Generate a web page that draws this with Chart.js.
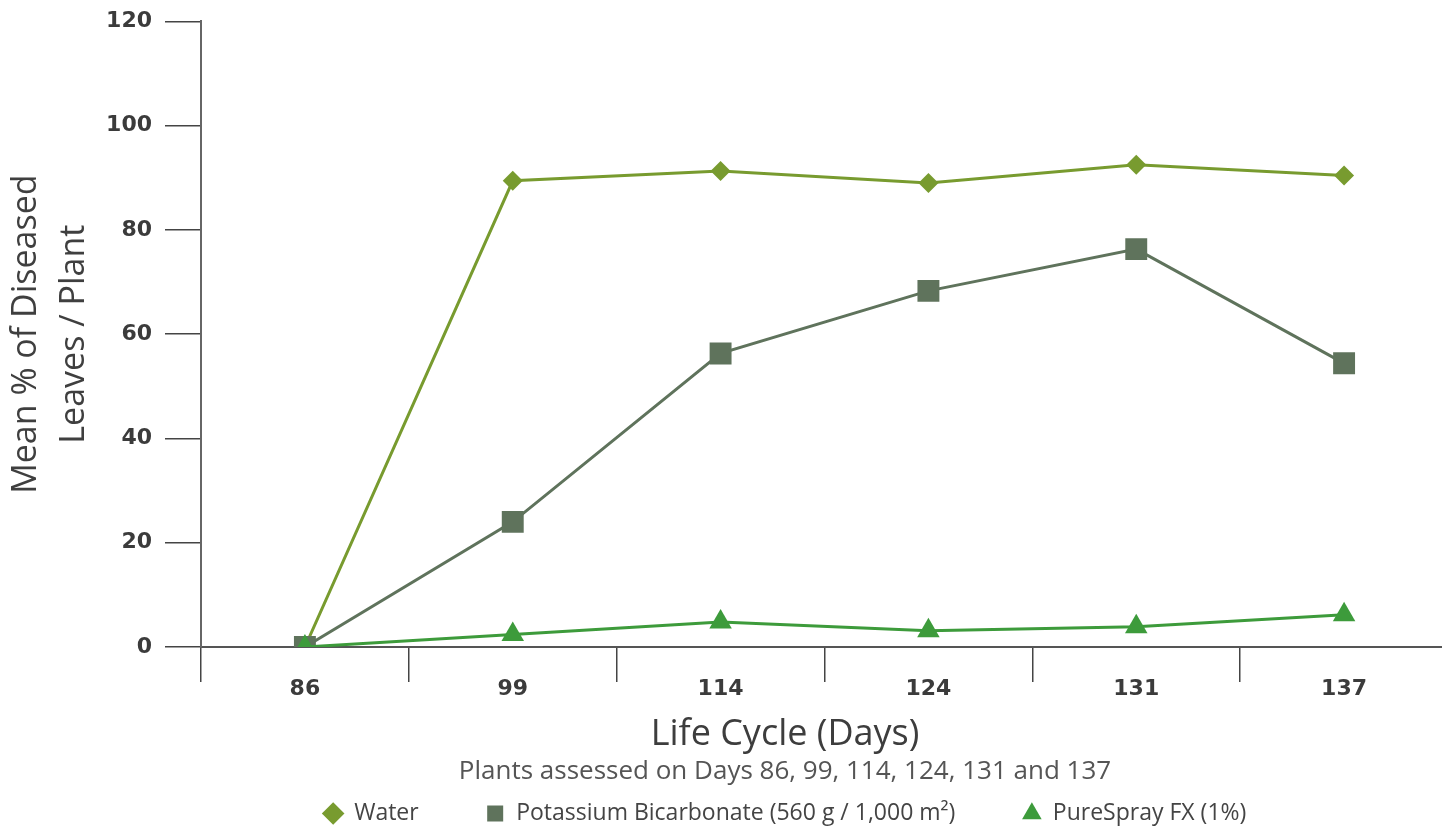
<!DOCTYPE html>
<html>
<head>
<meta charset="utf-8">
<script src="https://cdn.jsdelivr.net/npm/chart.js@4.4.1/dist/chart.umd.min.js"></script>
<style>
  html, body { margin: 0; padding: 0; background: #fff; overflow: hidden; }
  #wrap { width: 1442px; height: 827px; overflow: hidden; }
</style>
</head>
<body>
<div id="wrap">
  <canvas id="myChart" width="1570" height="827"></canvas>
</div>
<script>
const days      = ['86', '99', '114', '124', '131', '137'];
const water     = [0, 89.4, 91.3, 89.0, 92.5, 90.4];
const potassium = [0, 24.0, 56.3, 68.3, 76.3, 54.4];
const pureSpray = [0, 2.4, 4.8, 3.1, 3.9, 6.2];
const yTicks    = [0, 20, 40, 60, 80, 100, 120];

const textFont = 'Open Sans';

const data = {
    labels: days,
    datasets: [{
        label: 'Water',
        data: water,
        borderColor: '#789b2f',
        backgroundColor: '#789b2f',
        borderWidth: 3,
        pointStyle: 'rectRot',
        pointRadius: 10,
        pointBorderWidth: 0,
        order: 2
    }, {
        label: 'Potassium Bicarbonate (560 g / 1,000 m²)',
        data: potassium,
        borderColor: '#5f735c',
        backgroundColor: '#5f735c',
        borderWidth: 3,
        pointStyle: 'rect',
        pointRadius: 15.5,
        pointBorderWidth: 0,
        order: 1
    }, {
        label: 'PureSpray FX (1%)',
        data: pureSpray,
        borderColor: '#3d9b3b',
        backgroundColor: '#3d9b3b',
        borderWidth: 3,
        pointStyle: 'triangle',
        pointRadius: 13,
        pointBorderWidth: 0,
        order: 0
    }]
};

const config = {
    type: 'line',
    data: data,
    options: {
        responsive: false,
        animation: false,
        layout: { padding: { top: 0, bottom: -8, left: 0, right: 0 } },
        plugins: {
            tooltip: { enabled: false },
            legend: {
                position: 'bottom',
                weight: 1000,
                labels: {
                    usePointStyle: true,
                    boxWidth: 19,
                    boxHeight: 16,
                    padding: 67,
                    color: '#444',
                    font: { family: textFont, size: 23 },
                    sort: (a, b) => a.datasetIndex - b.datasetIndex
                }
            },
            title: {
                display: true,
                position: 'bottom',
                weight: 100,
                text: 'Life Cycle (Days)',
                color: '#3d3d3d',
                font: { family: textFont, size: 36, weight: 'normal', lineHeight: 1.2 },
                padding: { top: 2.4, bottom: -21.6 }
            },
            subtitle: {
                display: true,
                position: 'bottom',
                weight: 200,
                text: 'Plants assessed on Days 86, 99, 114, 124, 131 and 137',
                color: '#555',
                font: { family: textFont, size: 26, weight: 'normal', lineHeight: 1.2 },
                padding: { top: 21.4, bottom: -52.6 }
            }
        },
        scales: {
            x: {
                offset: true,
                grid: {
                    offset: true,
                    drawOnChartArea: false,
                    tickLength: 35,
                    color: '#444',
                    lineWidth: 1.5
                },
                border: { color: '#555', width: 2 },
                ticks: {
                    color: '#3b3b3b',
                    font: { family: 'DejaVu Sans', weight: 'bold', size: 22 },
                    padding: -6
                },
                afterFit: (s) => { s.height = 64; }
            },
            y: {
                min: 0,
                max: 120,
                afterBuildTicks: (s) => { s.ticks = yTicks.map(v => ({ value: v })); },
                grid: {
                    drawOnChartArea: false,
                    tickLength: 36,
                    color: '#444',
                    lineWidth: 1.5
                },
                border: { color: '#666', width: 2 },
                ticks: {
                    color: '#3b3b3b',
                    font: { family: 'DejaVu Sans', weight: 'bold', size: 22, lineHeight: 0.75 },
                    padding: 13
                },
                title: {
                    display: true,
                    text: ['Mean % of Diseased', 'Leaves / Plant'],
                    color: '#3f3f3f',
                    font: { family: textFont, size: 34, lineHeight: 1.4 },
                    padding: { top: 3, bottom: 0 }
                },
                afterFit: (s) => { s.width = 201; }
            },
            spacer: {
                type: 'linear',
                position: 'right',
                grid: { display: false },
                border: { display: false },
                ticks: { display: false },
                afterFit: (s) => { s.width = 122; }
            }
        }
    }
};

const myChart = new Chart(document.getElementById('myChart').getContext('2d'), config);
</script>
</body>
</html>
